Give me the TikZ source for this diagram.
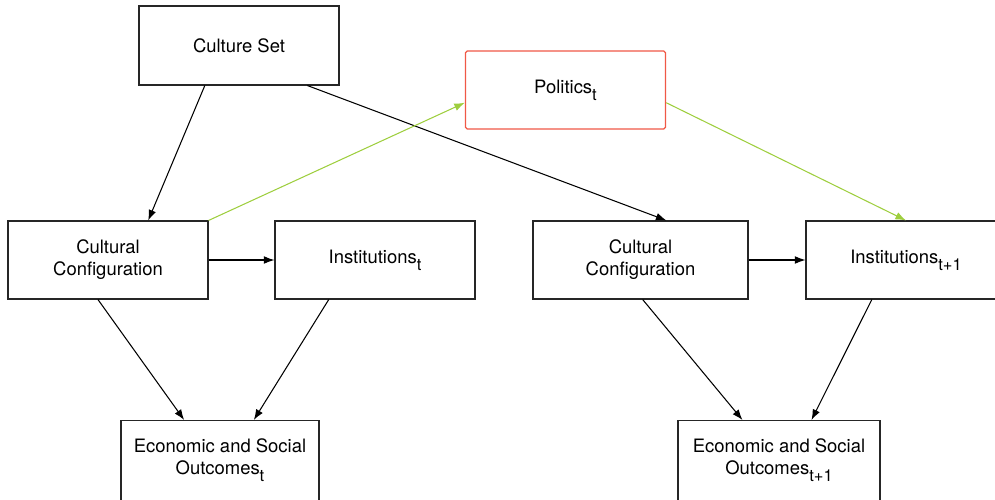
\documentclass[tikz,border=0pt]{standalone}
\usepackage{fontspec}
\setmainfont{TeX Gyre Heros}
\usepackage{tikz}
\usetikzlibrary{arrows.meta, calc}
\tikzset{>={Latex[length=6pt,width=4.4pt]}}
\definecolor{polred}{RGB}{240,88,70}
\definecolor{polgreen}{RGB}{158,206,62}
\newcommand{\tsub}[1]{\raisebox{-4pt}{\fontsize{9.4}{10}\selectfont #1}}
\tikzset{box/.style={draw=black!85, line width=0.6pt, minimum width=4cm,
    minimum height=1.56cm, align=center, inner sep=0pt,
    font=\fontsize{10.5}{12.6}\selectfont}}

\begin{document}
\begin{tikzpicture}
    \useasboundingbox (0,0) rectangle (19.9,9.98);
    % boxes
    \node[box, minimum height=1.58cm] (culture) at (4.78,9.07) {Culture Set};
    \node[box, draw=polred, line width=0.75pt, rounded corners=1pt] (politics) at (11.31,8.18) {Politics\tsub{t}};
    \node[box] (ccleft) at (2.16,4.78) {Cultural\\Configuration};
    \node[box] (instt) at (7.5,4.78) {Institutions\tsub{t}};
    \node[box, minimum width=4.3cm] (ccright) at (12.81,4.78) {Cultural\\Configuration};
    \node[box] (insttt) at (18.12,4.78) {Institutions\tsub{t+1}};
    \node[box, minimum width=3.96cm, minimum height=1.6cm] (econt) at (4.4,0.77) {Economic and Social\\Outcomes\tsub{t}};
    \node[box, minimum width=4.04cm, minimum height=1.6cm] (econtt) at (15.58,0.77) {Economic and Social\\Outcomes\tsub{t+1}};
    % culture set
    \draw[->, line width=0.6pt] ($(culture.south west)!0.33!(culture.south east)$) -- ($(ccleft.north west)!0.70!(ccleft.north east)$);
    \draw[->, line width=0.6pt] ($(culture.south west)!0.84!(culture.south east)$) -- ($(ccright.north west)!0.62!(ccright.north east)$);
    % politics
    \draw[->, polgreen, line width=0.6pt] (ccleft.north east) -- ($(politics.north west)!0.66!(politics.south west)$);
    \draw[->, polgreen, line width=0.6pt] ($(politics.north east)!0.66!(politics.south east)$) -- (insttt.north);
    % configuration to institutions
    \draw[->, line width=0.6pt] (ccleft.east) -- (instt.west);
    \draw[->, line width=0.6pt] (ccright.east) -- (insttt.west);
    % outcomes
    \draw[->, line width=0.6pt] ($(ccleft.south west)!0.45!(ccleft.south east)$) -- ($(econt.north west)!0.32!(econt.north east)$);
    \draw[->, line width=0.6pt] ($(instt.south west)!0.27!(instt.south east)$) -- ($(econt.north west)!0.67!(econt.north east)$);
    \draw[->, line width=0.6pt] ($(ccright.south west)!0.51!(ccright.south east)$) -- ($(econtt.north west)!0.32!(econtt.north east)$);
    \draw[->, line width=0.6pt] ($(insttt.south west)!0.33!(insttt.south east)$) -- ($(econtt.north west)!0.66!(econtt.north east)$);
\end{tikzpicture}
\end{document}
